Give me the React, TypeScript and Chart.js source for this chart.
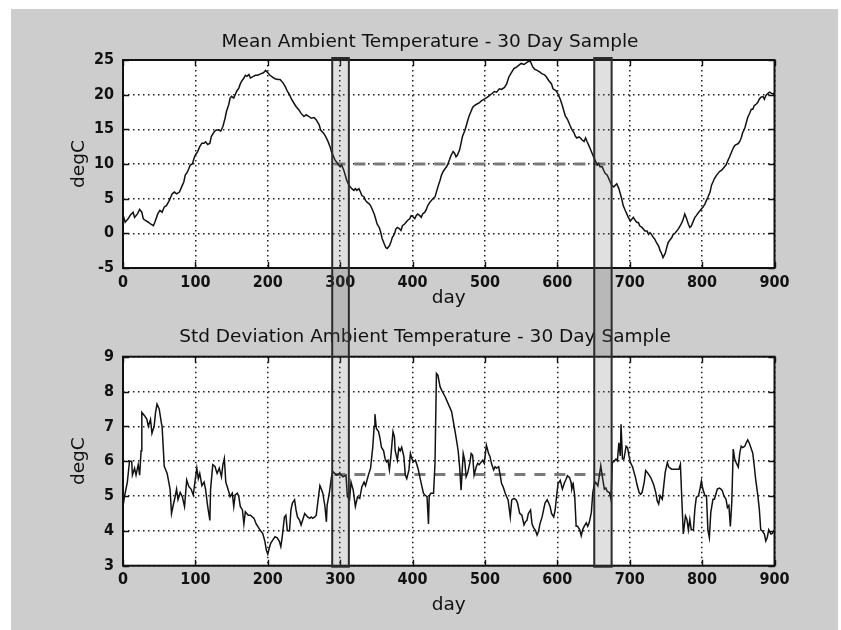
import React, { useEffect, useRef } from "react";
import { Chart, registerables } from "chart.js";

Chart.register(...registerables);

// ---------------- data ----------------
const meanTitle = "Mean Ambient Temperature - 30 Day Sample";
const stdTitle = "Std Deviation Ambient Temperature - 30 Day Sample";
const xLabel = "day";
const yLabel = "degC";

const dayAxis = [0, 900, 100]; // min, max, step
const meanAxis = [-5, 25, 5];
const stdAxis = [3, 9, 1];

// sample windows (days) outlined across both panels
const sampleWindows: [number, number][] = [
  [289, 312],
  [651, 675],
];
// dashed reference level between the two windows
const refSpan = [292, 675];
const meanRefLevel = 10;
const stdRefLevel = 5.62;

// [day, degC]
const meanSeries: [number, number][] = [
  [0, 2.7], [3, 1.6], [7, 2.1], [10, 2.6], [14, 3.05], [16, 2.3], [20, 2.8], [23, 3.45], [26, 3.05], [28, 2.1],
  [31, 1.85], [35, 1.6], [38, 1.35], [42, 1.1], [44, 1.6], [48, 2.8], [51, 3.3], [54, 3.05], [57, 3.8], [60, 4.0],
  [64, 4.75], [68, 5.7], [71, 5.95], [74, 5.7], [78, 5.95], [81, 6.7], [84, 7.4], [86, 8.4], [89, 8.85], [91, 9.35],
  [93, 9.85], [96, 10.05], [98, 10.8], [100, 11.3], [103, 11.75], [106, 12.5], [109, 13.0], [112, 13.0], [114, 13.2], [117, 12.8],
  [120, 13.0], [122, 13.95], [126, 14.65], [129, 14.9], [132, 14.9], [135, 14.75], [138, 15.4], [141, 16.6], [143, 17.6], [146, 18.55],
  [148, 19.5], [150, 19.75], [153, 19.5], [155, 20.0], [157, 20.5], [160, 20.95], [162, 21.55], [164, 21.95], [167, 22.4], [169, 22.8],
  [171, 22.65], [174, 22.9], [176, 22.4], [180, 22.65], [183, 22.8], [186, 22.8], [190, 23.0], [194, 23.15], [197, 23.5], [200, 23.15],
  [203, 22.8], [207, 22.5], [210, 22.3], [214, 22.2], [217, 22.2], [221, 21.7], [224, 21.2], [227, 20.5], [230, 20.0], [233, 19.3],
  [236, 18.8], [239, 18.3], [243, 17.8], [246, 17.3], [250, 16.85], [253, 17.1], [257, 16.85], [260, 16.6], [264, 16.7], [267, 16.35],
  [271, 15.65], [273, 14.9], [277, 14.45], [280, 13.95], [283, 13.3], [286, 12.5], [288, 11.75], [291, 11.05], [293, 10.55], [295, 10.3],
  [298, 9.85], [300, 9.6], [302, 9.85], [305, 9.1], [307, 8.4], [309, 7.65], [312, 6.95], [314, 6.7], [316, 6.45], [319, 6.2],
  [321, 6.45], [323, 6.2], [326, 6.45], [328, 5.95], [330, 5.45], [333, 5.25], [335, 4.75], [337, 4.5], [340, 4.25], [342, 4.0],
  [344, 3.55], [347, 2.8], [349, 2.1], [351, 1.35], [354, 0.85], [356, 0.15], [358, -0.75], [361, -1.55], [363, -2.05], [365, -2.2],
  [368, -1.8], [370, -1.3], [372, -0.6], [375, -0.1], [377, 0.65], [379, 0.85], [382, 0.65], [384, 0.4], [386, 1.1], [389, 1.35],
  [391, 1.6], [393, 1.85], [396, 2.1], [398, 2.55], [400, 2.45], [403, 2.1], [405, 2.55], [407, 2.8], [410, 2.55], [412, 2.3],
  [414, 2.8], [417, 3.05], [419, 3.45], [421, 4.0], [424, 4.5], [426, 4.75], [428, 5.0], [431, 5.25], [433, 5.95], [435, 6.7],
  [438, 7.65], [440, 8.4], [442, 8.85], [445, 9.35], [447, 9.6], [449, 10.05], [451, 10.6], [453, 11.2], [456, 11.8], [458, 11.55],
  [460, 11.05], [462, 11.3], [465, 12.05], [467, 13.0], [469, 14.0], [472, 14.75], [474, 15.45], [476, 16.2], [478, 16.9], [481, 17.65],
  [483, 18.15], [485, 18.4], [489, 18.65], [492, 18.8], [495, 19.1], [499, 19.35], [503, 19.6], [506, 19.85], [509, 20.1], [513, 20.45],
  [516, 20.35], [520, 20.85], [523, 20.75], [527, 21.05], [530, 21.55], [533, 22.55], [537, 23.25], [540, 23.75], [544, 24.0], [547, 24.25],
  [550, 24.5], [554, 24.35], [558, 24.65], [561, 24.85], [563, 24.75], [566, 24.0], [569, 23.65], [572, 23.5], [576, 23.25], [579, 23.0],
  [582, 22.9], [585, 22.55], [588, 22.05], [592, 21.55], [594, 20.85], [598, 20.6], [601, 20.1], [604, 19.35], [607, 18.4], [609, 17.65],
  [611, 16.95], [614, 16.45], [616, 15.95], [618, 15.45], [620, 15.0], [623, 14.5], [625, 14.0], [627, 13.75], [630, 13.9], [632, 13.75],
  [634, 13.5], [637, 13.25], [639, 13.75], [641, 13.25], [643, 12.8], [646, 12.05], [648, 11.55], [650, 11.05], [653, 10.35], [655, 9.85],
  [657, 10.1], [659, 9.6], [662, 9.6], [664, 9.1], [666, 8.65], [669, 8.4], [671, 7.9], [673, 7.4], [675, 6.95], [678, 6.7],
  [680, 6.95], [682, 7.15], [685, 6.45], [687, 5.7], [689, 4.95], [691, 4.0], [694, 3.25], [696, 2.8], [698, 2.3], [701, 1.8],
  [703, 2.05], [705, 2.3], [708, 1.8], [710, 1.55], [712, 1.55], [714, 1.05], [717, 0.85], [719, 0.6], [721, 0.35], [724, 0.35],
  [726, -0.15], [728, 0.1], [730, -0.15], [733, -0.65], [735, -0.9], [737, -1.35], [740, -1.85], [742, -2.5], [744, -2.9], [746, -3.5],
  [749, -2.9], [751, -2.1], [753, -1.35], [756, -0.9], [758, -0.65], [760, -0.15], [762, -0.05], [765, 0.35], [767, 0.6], [769, 0.95],
  [772, 1.55], [774, 2.05], [776, 2.8], [778, 2.3], [781, 1.3], [783, 0.85], [785, 1.05], [788, 1.8], [790, 2.3], [792, 2.55],
  [795, 3.0], [797, 3.25], [799, 3.5], [801, 3.75], [804, 4.25], [806, 4.75], [808, 5.2], [811, 5.95], [813, 6.95], [815, 7.4],
  [817, 7.9], [820, 8.4], [822, 8.65], [824, 8.9], [827, 9.1], [829, 9.35], [831, 9.6], [833, 9.85], [836, 10.6], [838, 11.05],
  [840, 11.55], [843, 12.3], [845, 12.65], [847, 12.8], [850, 12.95], [852, 13.25], [854, 13.75], [856, 14.5], [859, 15.2], [861, 15.95],
  [863, 16.7], [866, 17.4], [868, 17.9], [870, 17.9], [872, 18.4], [875, 18.65], [877, 18.9], [879, 19.35], [881, 19.6], [884, 19.75],
  [886, 19.35], [888, 19.85], [890, 20.1], [893, 20.35], [895, 20.25], [897, 20.1], [900, 20.25],
];

// [day, degC]
const stdSeries: [number, number][] = [
  [0, 4.7], [2, 4.98], [6, 5.4], [9, 6.0], [12, 6.0], [13, 5.6], [16, 5.8], [18, 5.6], [21, 5.9], [23, 5.6],
  [25, 6.3], [26, 7.4], [30, 7.3], [33, 7.2], [35, 7.0], [38, 7.2], [40, 6.8], [43, 7.0], [45, 7.4], [47, 7.64],
  [50, 7.5], [53, 7.1], [54, 7.0], [57, 5.85], [61, 5.65], [65, 5.2], [67, 4.5], [69, 4.7], [72, 4.98], [74, 5.2],
  [76, 4.9], [79, 5.1], [82, 4.98], [85, 4.7], [88, 5.46], [91, 5.27], [94, 5.2], [97, 5.03], [100, 5.5], [102, 5.8],
  [104, 5.5], [106, 5.65], [109, 5.3], [112, 5.4], [114, 5.2], [117, 4.7], [120, 4.3], [121, 5.2], [124, 5.9], [127, 5.85],
  [130, 5.65], [133, 5.8], [136, 5.55], [138, 5.9], [140, 6.08], [142, 5.4], [145, 5.2], [148, 4.98], [151, 5.08], [153, 4.7],
  [155, 5.03], [158, 5.08], [160, 4.98], [162, 4.7], [165, 4.6], [167, 4.2], [169, 4.55], [173, 4.45], [176, 4.45], [181, 4.36],
  [184, 4.2], [187, 4.1], [190, 4.0], [193, 3.93], [196, 3.7], [198, 3.45], [200, 3.33], [202, 3.5], [204, 3.64], [207, 3.74],
  [210, 3.83], [213, 3.8], [216, 3.7], [218, 3.55], [220, 3.83], [223, 4.4], [225, 4.45], [227, 4.0], [230, 4.0], [232, 4.6],
  [234, 4.8], [237, 4.89], [239, 4.6], [241, 4.4], [244, 4.3], [246, 4.17], [248, 4.3], [251, 4.5], [253, 4.45], [255, 4.4],
  [258, 4.36], [260, 4.4], [262, 4.36], [265, 4.4], [267, 4.45], [269, 4.8], [272, 5.3], [274, 5.2], [276, 5.08], [279, 4.7],
  [281, 4.26], [282, 4.74], [285, 5.08], [288, 5.55], [290, 5.7], [295, 5.6], [299, 5.65], [304, 5.55], [308, 5.6], [310, 4.98],
  [313, 4.9], [315, 5.4], [318, 5.17], [321, 4.7], [324, 4.98], [327, 4.93], [330, 5.27], [333, 5.4], [335, 5.3], [339, 5.6],
  [342, 5.8], [345, 6.4], [347, 7.0], [348, 7.35], [350, 6.94], [353, 6.85], [355, 6.66], [357, 6.4], [360, 6.3], [362, 6.08],
  [364, 5.98], [366, 6.03], [368, 5.75], [370, 6.13], [373, 6.85], [375, 6.7], [376, 6.3], [379, 6.03], [381, 6.37], [383, 6.3],
  [385, 6.4], [388, 6.13], [390, 5.6], [392, 5.5], [395, 5.75], [397, 6.22], [399, 6.08], [401, 5.98], [404, 6.03], [406, 5.9],
  [408, 5.75], [410, 5.55], [413, 5.27], [415, 5.08], [417, 5.03], [420, 4.98], [422, 4.2], [423, 4.98], [425, 5.08], [429, 5.08],
  [431, 5.94], [433, 8.52], [435, 8.47], [438, 8.14], [441, 8.0], [445, 7.85], [449, 7.66], [454, 7.42], [456, 7.18], [458, 6.94],
  [460, 6.7], [463, 6.3], [465, 5.84], [467, 5.17], [470, 6.22], [472, 6.03], [474, 5.55], [476, 5.65], [479, 5.94], [481, 6.22],
  [483, 6.17], [485, 5.6], [488, 5.84], [490, 5.94], [492, 5.9], [495, 5.98], [497, 6.03], [499, 5.94], [502, 6.46], [505, 6.22],
  [507, 6.13], [509, 5.94], [512, 5.75], [514, 5.84], [516, 5.8], [519, 5.84], [521, 5.6], [523, 5.36], [525, 5.27], [528, 5.08],
  [530, 4.98], [532, 4.89], [535, 4.4], [537, 4.89], [540, 4.93], [543, 4.89], [545, 4.8], [548, 4.5], [551, 4.45], [554, 4.17],
  [556, 4.26], [558, 4.3], [560, 4.5], [563, 4.6], [565, 4.2], [567, 4.1], [570, 4.0], [572, 3.88], [574, 3.98], [576, 4.2],
  [579, 4.4], [581, 4.6], [583, 4.8], [586, 4.89], [588, 4.8], [590, 4.7], [592, 4.5], [595, 4.4], [597, 4.6], [599, 5.0],
  [601, 5.36], [604, 5.45], [607, 5.2], [610, 5.39], [612, 5.48], [614, 5.58], [617, 5.53], [619, 5.39], [620, 5.2], [622, 5.33],
  [624, 5.01], [626, 4.13], [628, 4.13], [631, 4.03], [633, 3.86], [635, 4.03], [637, 4.13], [640, 4.23], [642, 4.13], [644, 4.23],
  [647, 4.53], [649, 5.1], [651, 5.33], [653, 5.39], [656, 5.29], [658, 5.58], [660, 5.87], [662, 5.58], [665, 5.2], [667, 5.23],
  [669, 5.13], [672, 5.1], [674, 4.91], [676, 5.96], [679, 6.01], [681, 6.06], [683, 6.01], [685, 6.53], [687, 6.15], [688, 7.06],
  [690, 6.06], [692, 6.06], [695, 6.43], [697, 6.39], [699, 6.15], [701, 5.96], [704, 5.83], [706, 5.68], [708, 5.53], [710, 5.33],
  [713, 5.1], [715, 5.05], [717, 5.1], [720, 5.39], [722, 5.73], [724, 5.68], [726, 5.63], [729, 5.53], [731, 5.43], [733, 5.33],
  [736, 5.1], [738, 4.86], [740, 4.77], [742, 5.01], [745, 4.91], [747, 5.29], [749, 5.68], [752, 5.96], [754, 5.83], [758, 5.77],
  [763, 5.77], [768, 5.77], [770, 5.91], [772, 4.91], [774, 3.91], [777, 4.43], [779, 4.33], [781, 4.03], [783, 4.33], [785, 4.03],
  [788, 4.03], [790, 4.63], [792, 4.96], [795, 5.01], [797, 5.2], [799, 5.43], [801, 5.2], [804, 5.01], [806, 5.01], [808, 4.03],
  [810, 3.81], [812, 4.53], [815, 4.91], [817, 4.91], [819, 5.05], [821, 5.2], [824, 5.23], [826, 5.2], [828, 5.15], [830, 5.01],
  [833, 4.91], [835, 4.67], [837, 4.73], [839, 4.13], [841, 4.82], [843, 6.35], [845, 6.06], [847, 5.96], [850, 5.83], [852, 6.23],
  [854, 6.43], [856, 6.39], [859, 6.43], [861, 6.53], [863, 6.61], [865, 6.53], [868, 6.35], [870, 6.23], [872, 5.87], [874, 5.48],
  [877, 5.01], [879, 4.63], [881, 4.03], [883, 4.0], [886, 3.91], [888, 3.71], [890, 3.81], [892, 4.03], [895, 3.91], [897, 3.93],
  [899, 4.0],
];

// ---------------- styling ----------------
const TEXT_FONT = '"DejaVu Sans", "Liberation Sans", Arial, sans-serif';
const TICK_FONT = '"Liberation Sans Narrow", "Arial Narrow", "DejaVu Sans Condensed", "Liberation Sans", sans-serif';
const INK = "#111111";
const PAGE_W = 841;
const PANEL_H = 315;
const PLOT_LEFT = 123;
const PLOT_RIGHT = 774.5;

type PanelSpec = {
  series: [number, number][];
  yAxis: number[];
  refLevel: number;
  title: string;
  titleX: number;
  titleY: number;
  plotTop: number;
  plotBottom: number;
  xTitleCenter: number;
  xTickPad: number;
  bandsUp: boolean; // band continues to the top edge of the canvas
};

function makeDecor(spec: PanelSpec) {
  return {
    id: "panelDecor",
    beforeDraw(chart: any) {
      const { ctx, chartArea: a } = chart;
      ctx.save();
      ctx.fillStyle = "#ffffff";
      ctx.fillRect(a.left, a.top, a.right - a.left, a.bottom - a.top);
      ctx.fillStyle = INK;
      ctx.font = `18.5px ${TEXT_FONT}`;
      ctx.textAlign = "center";
      ctx.textBaseline = "middle";
      ctx.fillText(spec.title, spec.titleX, spec.titleY);
      ctx.restore();
    },
    afterDatasetsDraw(chart: any) {
      const { ctx, chartArea: a, scales } = chart;
      ctx.save();
      ctx.strokeStyle = INK;
      ctx.lineWidth = 1.4;
      const tl = 6;
      ctx.beginPath();
      scales.x.ticks.forEach((t: any) => {
        const px = Math.round(scales.x.getPixelForValue(t.value)) + 0.5;
        ctx.moveTo(px, a.bottom);
        ctx.lineTo(px, a.bottom - tl);
        ctx.moveTo(px, a.top);
        ctx.lineTo(px, a.top + tl);
      });
      scales.y.ticks.forEach((t: any) => {
        const py = Math.round(scales.y.getPixelForValue(t.value)) + 0.5;
        ctx.moveTo(a.left, py);
        ctx.lineTo(a.left + tl, py);
        ctx.moveTo(a.right, py);
        ctx.lineTo(a.right - tl, py);
      });
      ctx.stroke();
      ctx.lineWidth = 2;
      ctx.strokeRect(a.left, a.top, a.right - a.left, a.bottom - a.top);
      ctx.restore();
    },
    afterDraw(chart: any) {
      const { ctx, chartArea: a, scales } = chart;
      const top = spec.bandsUp ? -3 : a.top - 2;
      const bottom = spec.bandsUp ? a.bottom + 1 : chart.height + 3;
      ctx.save();
      sampleWindows.forEach(([d0, d1]) => {
        const x0 = scales.x.getPixelForValue(d0);
        const x1 = scales.x.getPixelForValue(d1);
        ctx.fillStyle = "rgba(100,100,100,0.2)";
        ctx.fillRect(x0, top, x1 - x0, bottom - top);
        ctx.strokeStyle = "#2b2b2b";
        ctx.lineWidth = 2;
        ctx.strokeRect(x0, top, x1 - x0, bottom - top);
      });
      ctx.restore();
    },
  };
}

function buildConfig(spec: PanelSpec): any {
  const tickFont = { family: TICK_FONT, size: 16, weight: "bold" as const };
  const labelFont = { family: TEXT_FONT, size: 18.5 };
  const xAxisHeight = PANEL_H - spec.plotBottom;
  return {
    type: "line",
    data: {
      datasets: [
        {
          data: spec.series.map(([d, v]) => ({ x: d, y: v })),
          borderColor: "#121212",
          borderWidth: 1.5,
          pointRadius: 0,
          tension: 0,
          order: 1,
        },
        {
          data: refSpan.map((d) => ({ x: d, y: spec.refLevel })),
          borderColor: "#7a7a7a",
          borderWidth: 3,
          borderDash: [11, 9],
          pointRadius: 0,
          order: 2,
        },
      ],
    },
    options: {
      responsive: false,
      animation: false,
      events: [],
      layout: {
        padding: { top: spec.plotTop, right: PAGE_W - PLOT_RIGHT, bottom: 0, left: 0 },
      },
      plugins: { legend: { display: false }, title: { display: false }, tooltip: { enabled: false } },
      scales: {
        x: {
          type: "linear",
          min: dayAxis[0],
          max: dayAxis[1],
          ticks: { stepSize: dayAxis[2], font: tickFont, color: INK, padding: spec.xTickPad, maxRotation: 0 },
          grid: { color: "#1e1e1e", lineWidth: 1.5, drawTicks: false },
          border: { display: false, dash: [1.5, 3.5] },
          title: {
            display: true,
            text: xLabel,
            font: labelFont,
            color: INK,
            padding: { top: 0, bottom: PANEL_H - spec.xTitleCenter - 11.1 },
          },
          afterFit: (s: any) => {
            s.height = xAxisHeight;
          },
        },
        y: {
          type: "linear",
          min: spec.yAxis[0],
          max: spec.yAxis[1],
          ticks: { stepSize: spec.yAxis[2], font: tickFont, color: INK, padding: 9 },
          grid: { color: "#1e1e1e", lineWidth: 1.5, drawTicks: false },
          border: { display: false, dash: [1.5, 3.5] },
          title: {
            display: true,
            text: yLabel,
            font: labelFont,
            color: INK,
            padding: { top: 79 - 11.1, bottom: 0 },
          },
          afterFit: (s: any) => {
            s.width = PLOT_LEFT;
          },
        },
      },
    },
    plugins: [makeDecor(spec)],
  };
}

const topSpec: PanelSpec = {
  series: meanSeries,
  yAxis: meanAxis,
  refLevel: meanRefLevel,
  title: meanTitle,
  titleX: 430,
  titleY: 42,
  plotTop: 60,
  plotBottom: 268,
  xTitleCenter: 298,
  xTickPad: 5,
  bandsUp: false,
};

const bottomSpec: PanelSpec = {
  series: stdSeries,
  yAxis: stdAxis,
  refLevel: stdRefLevel,
  title: stdTitle,
  titleX: 425,
  titleY: 22,
  plotTop: 41.7,
  plotBottom: 250.7,
  xTitleCenter: 290,
  xTickPad: 5,
  bandsUp: true,
};

function Panel({ spec, top }: { spec: PanelSpec; top: number }) {
  const ref = useRef<HTMLCanvasElement | null>(null);
  useEffect(() => {
    if (!ref.current) return;
    const chart = new Chart(ref.current, buildConfig(spec));
    return () => chart.destroy();
  }, [spec]);
  return (
    <canvas
      ref={ref}
      width={PAGE_W}
      height={PANEL_H}
      style={{ position: "absolute", left: 0, top, width: PAGE_W, height: PANEL_H, display: "block" }}
    />
  );
}

export default function App() {
  return (
    <div
      style={{
        position: "absolute",
        left: 0,
        top: 0,
        width: PAGE_W,
        height: 630,
        background: "#ffffff",
        overflow: "hidden",
      }}
    >
      <div style={{ position: "absolute", left: 11, top: 9, width: 827, height: 621, background: "#cdcdcd" }} />
      <Panel spec={topSpec} top={0} />
      <Panel spec={bottomSpec} top={PANEL_H} />
    </div>
  );
}
